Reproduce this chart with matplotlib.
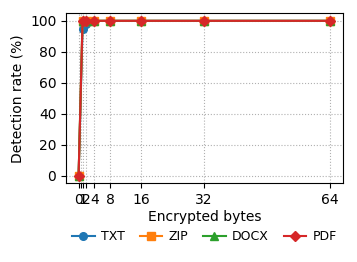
import matplotlib
matplotlib.use("Agg")
import matplotlib.pyplot as plt

xs = [0, 1, 2, 4, 8, 16, 32, 64]
txt = [0, 95, 98, 100, 100, 100, 100, 100]
zip_ = [0, 100, 100, 100, 100, 100, 100, 100]
docx = [0, 100, 100, 100, 100, 100, 100, 100]
pdf = [0, 100, 100, 100, 100, 100, 100, 100]

tick_pos = [0, 0.5, 1, 2, 4, 8, 16, 32, 64]
tick_labels = ["0", "", "1", "2", "4", "8", "16", "32", "64"]

fig, ax = plt.subplots(figsize=(3.57, 2.62), dpi=100)
ax.plot(xs, txt, marker="o", markersize=5.5, label="TXT")
ax.plot(xs, zip_, marker="s", markersize=5.5, label="ZIP")
ax.plot(xs, docx, marker="^", markersize=5.5, label="DOCX")
ax.plot(xs, pdf, marker="D", markersize=5.5, label="PDF")

ax.set_xticks(tick_pos)
ax.set_xticklabels(tick_labels)
ax.set_yticks([0, 20, 40, 60, 80, 100])
ax.set_xlim(-3.2, 67.3)
ax.set_ylim(-5, 105)
ax.grid(True, linestyle=":", color="#b0b0b0", linewidth=0.8)
ax.set_xlabel("Encrypted bytes", labelpad=2)
ax.set_ylabel("Detection rate (%)")
ax.legend(loc="upper center", bbox_to_anchor=(0.5, -0.21), ncol=4, frameon=False,
          handlelength=1.8, columnspacing=1.2, handletextpad=0.5, fontsize=9)
fig.subplots_adjust(left=0.185, right=0.96, top=0.95, bottom=0.3)
fig.savefig("out.png")
